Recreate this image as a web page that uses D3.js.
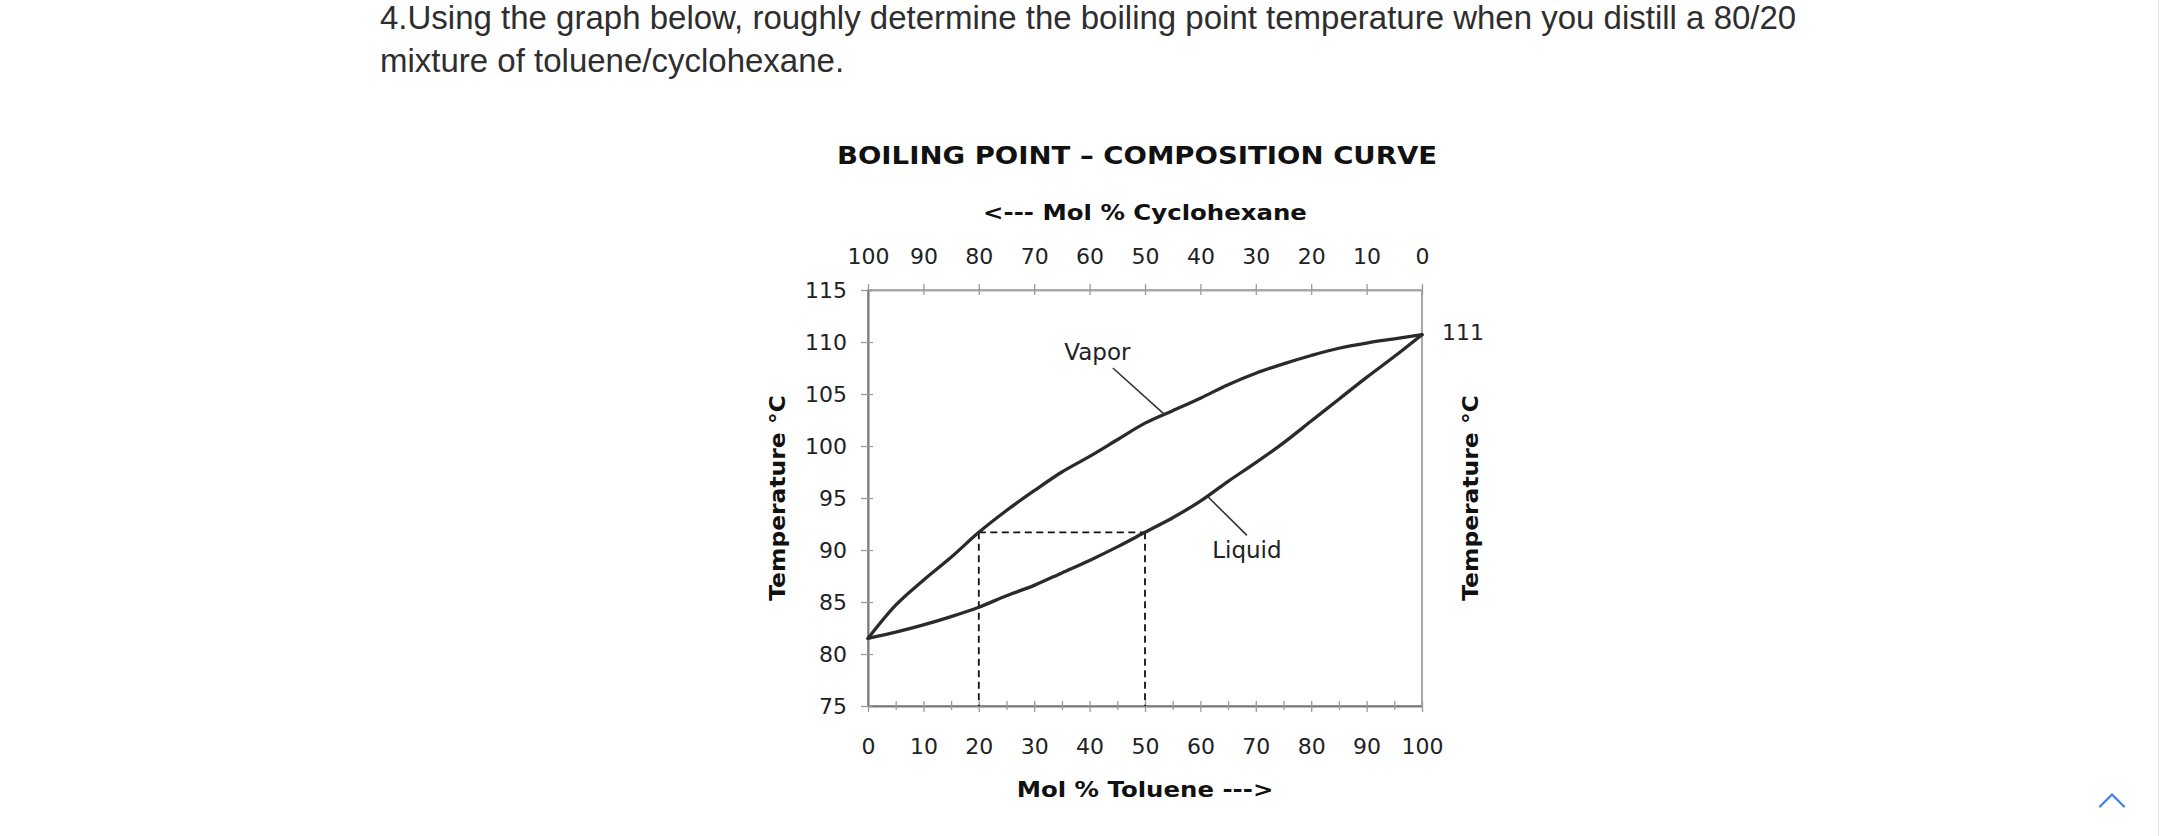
<!DOCTYPE html>
<html>
<head>
<meta charset="utf-8">
<script src="https://cdn.jsdelivr.net/npm/d3@7"></script>
<style>
  html, body { margin: 0; padding: 0; background: #fff; }
  svg { display: block; }
</style>
</head>
<body>
<svg id="chart" width="2160" height="836"></svg>
<script>
// ---------------- data ----------------
const questionLines = [
  "4.Using the graph below, roughly determine the boiling point temperature when you distill a 80/20",
  "mixture of toluene/cyclohexane."
];
const chartTitle = "BOILING POINT \u2013 COMPOSITION CURVE";
const topAxisTitle = "<---  Mol % Cyclohexane";
const bottomAxisTitle = "Mol % Toluene  --->";
const yAxisTitle = "Temperature \u00b0C";

const toluenePct = [0, 5, 10, 15, 20, 25, 30, 35, 40, 45, 50, 55, 60, 65, 70, 75, 80, 85, 90, 95, 100];
const vaporTemp  = [81.5, 84.7, 87.1, 89.3, 91.7, 93.8, 95.7, 97.5, 99.0, 100.6, 102.2, 103.4, 104.6, 105.9, 107.0, 107.9, 108.7, 109.4, 109.9, 110.3, 110.7];
const liquidTemp = [81.5, 82.1, 82.8, 83.6, 84.5, 85.6, 86.6, 87.8, 89.0, 90.3, 91.7, 93.1, 94.7, 96.6, 98.4, 100.3, 102.4, 104.5, 106.6, 108.6, 110.7];

const tolueneTicks = [0, 10, 20, 30, 40, 50, 60, 70, 80, 90, 100];
const tolueneMinorTicks = [0, 5, 10, 15, 20, 25, 30, 35, 40, 45, 50, 55, 60, 65, 70, 75, 80, 85, 90, 95, 100];
const cyclohexaneTicks = [100, 90, 80, 70, 60, 50, 40, 30, 20, 10, 0];
const tempTicks = [75, 80, 85, 90, 95, 100, 105, 110, 115];
const endTempLabel = "111";

// tie line construction (dashed): liquid at 50 % toluene -> vapour at 20 % toluene
const tieTemp = 91.7;
const tieVaporX = 20;
const tieLiquidX = 50;

// curve labels with leader lines (data units: % toluene, °C)
const curveLabels = [
  { text: "Vapor",  x: 41.4, t: 108.3, from: [44.2, 107.5], to: [53.6, 103.0] },
  { text: "Liquid", x: 68.4, t: 89.2,  from: [61.4, 95.1],  to: [68.4, 91.4] }
];

// ---------------- drawing ----------------
const svg = d3.select("#chart");
const FONT = "'DejaVu Sans', Verdana, sans-serif";

// page frame line
svg.append("line").attr("x1", 2158.5).attr("x2", 2158.5).attr("y1", 0).attr("y2", 836)
  .attr("stroke", "#e3e3e3").attr("stroke-width", 1);

// question text
svg.append("g").selectAll("text").data(questionLines).join("text")
  .attr("x", 380)
  .attr("y", (d, i) => 29 + i * 42.7)
  .attr("font-family", "'Liberation Sans', Arial, Helvetica, sans-serif")
  .attr("font-size", 33)
  .attr("fill", "#2e2e2e")
  .text(d => d);

// scales
const x = d3.scaleLinear().domain([0, 100]).range([868, 1422]);
const xTop = d3.scaleLinear().domain([100, 0]).range([868, 1422]);
const y = d3.scaleLinear().domain([75, 115]).range([706, 290]);

// helper for (slightly widened) bold titles
function stretched(text, px, py, size, sx, rot, weight) {
  svg.append("text")
    .attr("transform", `translate(${px},${py}) rotate(${rot || 0}) scale(${sx},1)`)
    .attr("text-anchor", "middle")
    .attr("font-family", FONT)
    .attr("font-weight", weight || "bold")
    .attr("font-size", size)
    .attr("fill", "#111")
    .text(text);
}

// titles
stretched(chartTitle, (x(0) + x(100)) / 2 - 8, 164, 24.5, 1.125);
stretched(topAxisTitle, (x(0) + x(100)) / 2, 219.5, 22, 1.11);
stretched(bottomAxisTitle, (x(0) + x(100)) / 2, 797, 22, 1.11);
stretched(yAxisTitle, 785, (y(75) + y(115)) / 2, 22, 1.066, -90);
stretched(yAxisTitle, 1478, (y(75) + y(115)) / 2, 22, 1.066, -90);

// plot frame (top & right light)
svg.append("rect")
  .attr("x", x(0)).attr("y", y(115))
  .attr("width", x(100) - x(0)).attr("height", y(75) - y(115))
  .attr("fill", "none").attr("stroke", "#a8a8a8").attr("stroke-width", 2);

function styleAxis(g) {
  g.selectAll("text").attr("font-family", FONT).attr("font-size", 22).attr("fill", "#222");
  g.select(".domain").attr("stroke", "#7a7a7a").attr("stroke-width", 2);
  g.selectAll(".tick line").attr("stroke", "#9a9a9a").attr("stroke-width", 1.3);
}

// bottom axis (ticks every 5, labels every 10)
const gBottom = svg.append("g").attr("transform", `translate(0,${y(75)})`)
  .call(d3.axisBottom(x).tickValues(tolueneMinorTicks).tickSizeOuter(0)
    .tickFormat(d => (tolueneTicks.includes(d) ? d : "")));
styleAxis(gBottom);
gBottom.selectAll(".tick line").attr("y1", -5).attr("y2", d => (d % 10 === 0 ? 6 : 4));
gBottom.selectAll(".tick text").attr("y", 48).attr("dy", 0);

// top axis (cyclohexane)
const gTop = svg.append("g").attr("transform", `translate(0,${y(115)})`)
  .call(d3.axisTop(xTop).tickValues(cyclohexaneTicks).tickSizeOuter(0));
styleAxis(gTop);
gTop.select(".domain").attr("stroke", "#a8a8a8");
gTop.selectAll(".tick line").attr("y1", -6).attr("y2", 5);
gTop.selectAll(".tick text").attr("y", -26.5).attr("dy", 0);

// left axis
const gLeft = svg.append("g").attr("transform", `translate(${x(0)},0)`)
  .call(d3.axisLeft(y).tickValues(tempTicks).tickSizeOuter(0));
styleAxis(gLeft);
gLeft.selectAll(".tick line").attr("x1", -7).attr("x2", 5);
gLeft.selectAll(".tick text").attr("x", -21);

// end label 111
svg.append("text")
  .attr("x", x(100) + 20).attr("y", y(vaporTemp[vaporTemp.length - 1]))
  .attr("dy", "0.22em")
  .attr("font-family", FONT).attr("font-size", 22).attr("fill", "#222")
  .text(endTempLabel);

// dashed tie lines
const dash = svg.append("g").attr("stroke", "#111").attr("stroke-width", 1.8)
  .attr("stroke-dasharray", "7,4.5").attr("fill", "none");
dash.append("line").attr("x1", x(tieVaporX)).attr("x2", x(tieLiquidX))
  .attr("y1", y(tieTemp)).attr("y2", y(tieTemp));
[tieVaporX, tieLiquidX].forEach(v => {
  dash.append("line").attr("x1", x(v)).attr("x2", x(v))
    .attr("y1", y(tieTemp)).attr("y2", y(75));
});

// curves
const line = d3.line().x(d => x(d[0])).y(d => y(d[1])).curve(d3.curveCatmullRom.alpha(0.5));
const curves = [d3.zip(toluenePct, vaporTemp), d3.zip(toluenePct, liquidTemp)];
svg.append("g").selectAll("path").data(curves).join("path")
  .attr("d", line)
  .attr("fill", "none")
  .attr("stroke", "#2a2a2a")
  .attr("stroke-width", 3.3)
  .attr("stroke-linejoin", "round")
  .attr("stroke-linecap", "round");

// labels + leader lines
const lab = svg.append("g");
lab.selectAll("line").data(curveLabels).join("line")
  .attr("x1", d => x(d.from[0])).attr("y1", d => y(d.from[1]))
  .attr("x2", d => x(d.to[0])).attr("y2", d => y(d.to[1]))
  .attr("stroke", "#333").attr("stroke-width", 1.6);
lab.selectAll("text").data(curveLabels).join("text")
  .attr("x", d => x(d.x)).attr("y", d => y(d.t))
  .attr("text-anchor", "middle")
  .attr("font-family", FONT).attr("font-size", 23).attr("fill", "#222")
  .text(d => d.text);

// back-to-top chevron
svg.append("path")
  .attr("d", d3.line()([[2100, 806.5], [2112, 794.5], [2124, 806.5]]))
  .attr("fill", "none").attr("stroke", "#3b7ff0").attr("stroke-width", 2.2)
  .attr("stroke-linecap", "round").attr("stroke-linejoin", "round");
</script>
</body>
</html>
